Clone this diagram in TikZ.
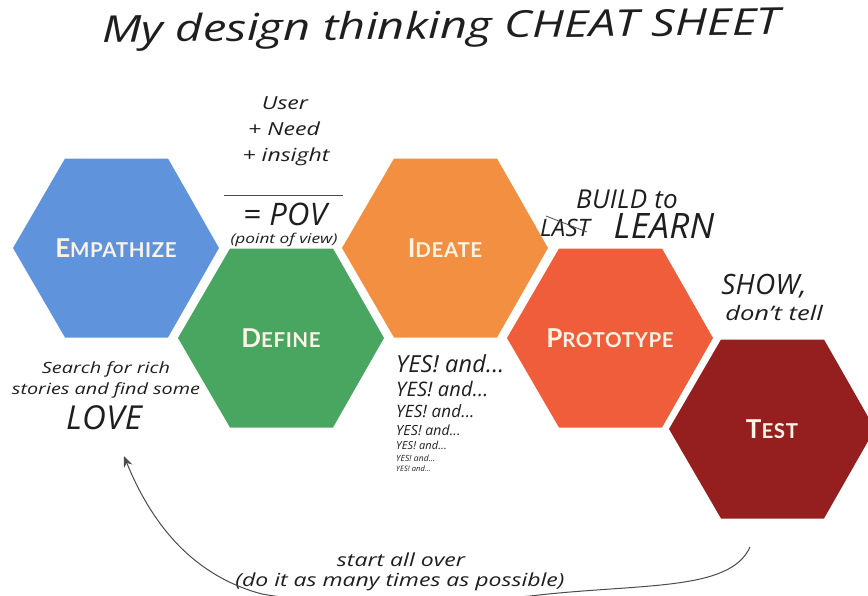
\documentclass[tikz,border=0pt]{standalone}
\usepackage{fontspec}
\setmainfont{Open Sans}[ItalicFeatures={FakeStretch=1.28}]
\newfontfamily\capsfont{Lato}[BoldFont=* Bold,BoldFeatures={LetterSpace=3}]
\newfontfamily\tallhand{Open Sans}[ItalicFeatures={LetterSpace=1}]
\usetikzlibrary{arrows.meta}
\definecolor{cEmp}{HTML}{5F94DD}
\definecolor{cDef}{HTML}{48A660}
\definecolor{cIde}{HTML}{F28F41}
\definecolor{cPro}{HTML}{F05D3B}
\definecolor{cTes}{HTML}{951E1E}
\definecolor{cLab}{HTML}{FBF3E6}
\definecolor{cInk}{HTML}{1E1E1E}
\newcommand{\hexa}[3]{%
  \fill[#2] (#1) ++(-103,0) -- ++(52,-89.5) -- ++(103,0) -- ++(51,89.5) -- ++(-51,89.5) -- ++(-103,0) -- cycle;
  \node[hexlabel] at (#1) {#3};}
\newcommand{\capt}[2]{{\fontsize{26}{26}\selectfont #1}{\fontsize{20.5}{26}\selectfont #2}}
\newcommand{\hwide}[1]{\itshape\fontsize{#1}{#1}\selectfont}
\newcommand{\htall}[1]{\tallhand\itshape\fontsize{#1}{#1}\selectfont}
\tikzset{
  x=1pt,y=-1pt,
  hexlabel/.style={text=cLab,font=\capsfont\bfseries,inner sep=0pt},
  hand/.style={text=cInk,inner sep=0pt,align=center},
  inkline/.style={draw=cInk!80,line width=0.8pt},
}
\begin{document}
\begin{tikzpicture}
\useasboundingbox (0,0) rectangle (868,595);
\begin{scope}
\clip (0,0) rectangle (868,595);
\coordinate (cE) at (116,248);
\coordinate (cD) at (281,338);
\coordinate (cI) at (445,248);
\coordinate (cP) at (610,338);
\coordinate (cT) at (772,429);
\hexa{cE}{cEmp}{\capt{E}{MPATHIZE}}
\hexa{cD}{cDef}{\capt{D}{EFINE}}
\hexa{cI}{cIde}{\capt{I}{DEATE}}
\hexa{cP}{cPro}{\capt{P}{ROTOTYPE}}
\hexa{cT}{cTes}{\capt{T}{EST}}
\node[hand,rotate=0.7,font=\hwide{37}] (title) at (441,29) {My design thinking CHEAT SHEET};
\node[hand,font=\hwide{18}] (user) at (285,103) {User};
\node[hand,font=\hwide{18}] (need) at (284,129) {+ Need};
\node[hand,font=\hwide{18}] (insight) at (286,157) {+ insight};
\coordinate (ruleL) at (224,195);
\coordinate (ruleR) at (343,195);
\draw[inkline] (ruleL) -- (ruleR);
\node[hand,font=\htall{31}] (pov) at (285,214) {= POV};
\node[hand,font=\hwide{13.5}] (pv) at (284,240) {(point of view)};
\node[hand,font=\htall{26}] (build) at (627,199) {BUILD to};
\node[hand,font=\htall{24}] (last) at (565,228) {LAST};
\node[hand,font=\htall{35}] (learn) at (664,226) {LEARN};
\coordinate (strikeL) at (546,216);
\coordinate (strikeR) at (587,232);
\draw[inkline] (strikeL) -- (strikeR);
\node[hand,font=\htall{28}] (show) at (764,286) {SHOW,};
\node[hand,font=\hwide{20}] (tell) at (774,313) {don't tell};
\node[hand,font=\hwide{15.5}] (search) at (106,369) {Search for rich};
\node[hand,font=\hwide{15.5}] (stories) at (106,390) {stories and find some};
\node[hand,font=\htall{33}] (love) at (104,418) {LOVE};
\node[hand,anchor=west,font=\htall{23.5}] (y1) at (396,364) {YES! and...};
\node[hand,anchor=west,font=\htall{20}] (y2) at (396,389) {YES! and...};
\node[hand,anchor=west,font=\htall{17}] (y3) at (396,411) {YES! and...};
\node[hand,anchor=west,font=\htall{14}] (y4) at (396,430) {YES! and...};
\node[hand,anchor=west,font=\htall{11}] (y5) at (396,445) {YES! and...};
\node[hand,anchor=west,font=\htall{8.5}] (y6) at (396,458) {YES! and...};
\node[hand,anchor=west,font=\htall{7.5}] (y7) at (396,469) {YES! and...};
\node[hand,font=\hwide{18}] (start) at (401,560) {start all over};
\node[hand,font=\hwide{18}] (many) at (400,582) {(do it as many times as possible)};
\coordinate (loopS) at (750,547);
\coordinate (loopE) at (124,456);
\draw[inkline,line width=1pt,-{Stealth[length=11pt,width=9pt]}] (loopS) .. controls (730,592) and (640,583) .. (530,596) .. controls (430,606) and (330,606) .. (262,594) .. controls (190,575) and (150,520) .. (loopE);
\end{scope}
\end{tikzpicture}
\end{document}
